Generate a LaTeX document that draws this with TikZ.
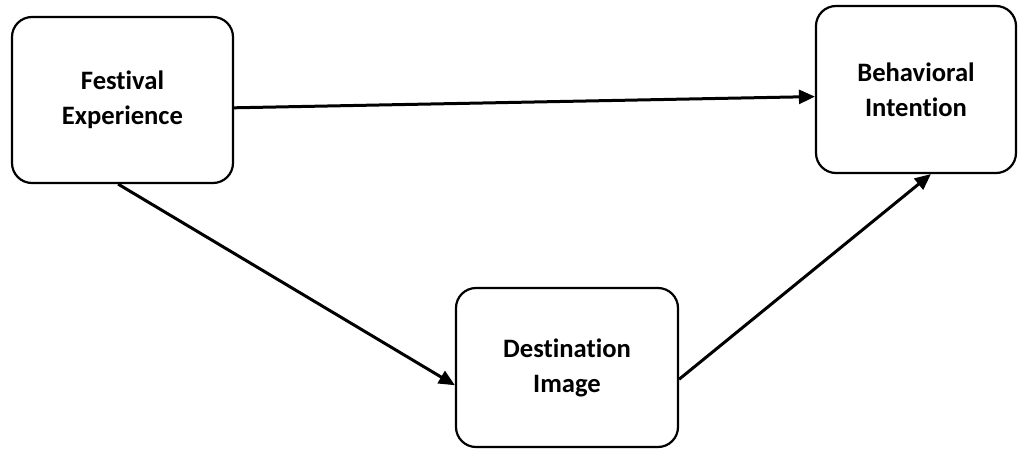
\documentclass[tikz,border=0pt]{standalone}
\usepackage{fontspec}
\setmainfont{Carlito}[RawFeature=-liga]
\usepackage{tikz}
\usetikzlibrary{arrows.meta}

\begin{document}
\begin{tikzpicture}[x=0.5pt,y=-0.5pt,
    construct/.style={draw,line width=1.1pt,rounded corners=10pt,align=center,
      font=\fontsize{13.3}{17.5}\selectfont\bfseries},
    path/.style={line width=1.5pt,-{Triangle[length=8pt,width=7pt]}}]
  \useasboundingbox (0,0) rectangle (1025,450);
  \node[construct,minimum width=110.5pt,minimum height=83pt]
    (fe) at (122.5,100) {Festival\\Experience};
  \node[construct,minimum width=100pt,minimum height=83.5pt]
    (bi) at (916,89.5) {Behavioral\\Intention};
  \node[construct,minimum width=111pt,minimum height=79.5pt]
    (di) at (567,367.5) {Destination\\Image};
  \draw[path]
    (fe.-4)
    --
    (bi.184);
  \draw[path]
    (fe.-93)
    --
    (di.189);
  \draw[path]
    (di.-6)
    --
    (bi.-80);
\end{tikzpicture}
\end{document}
